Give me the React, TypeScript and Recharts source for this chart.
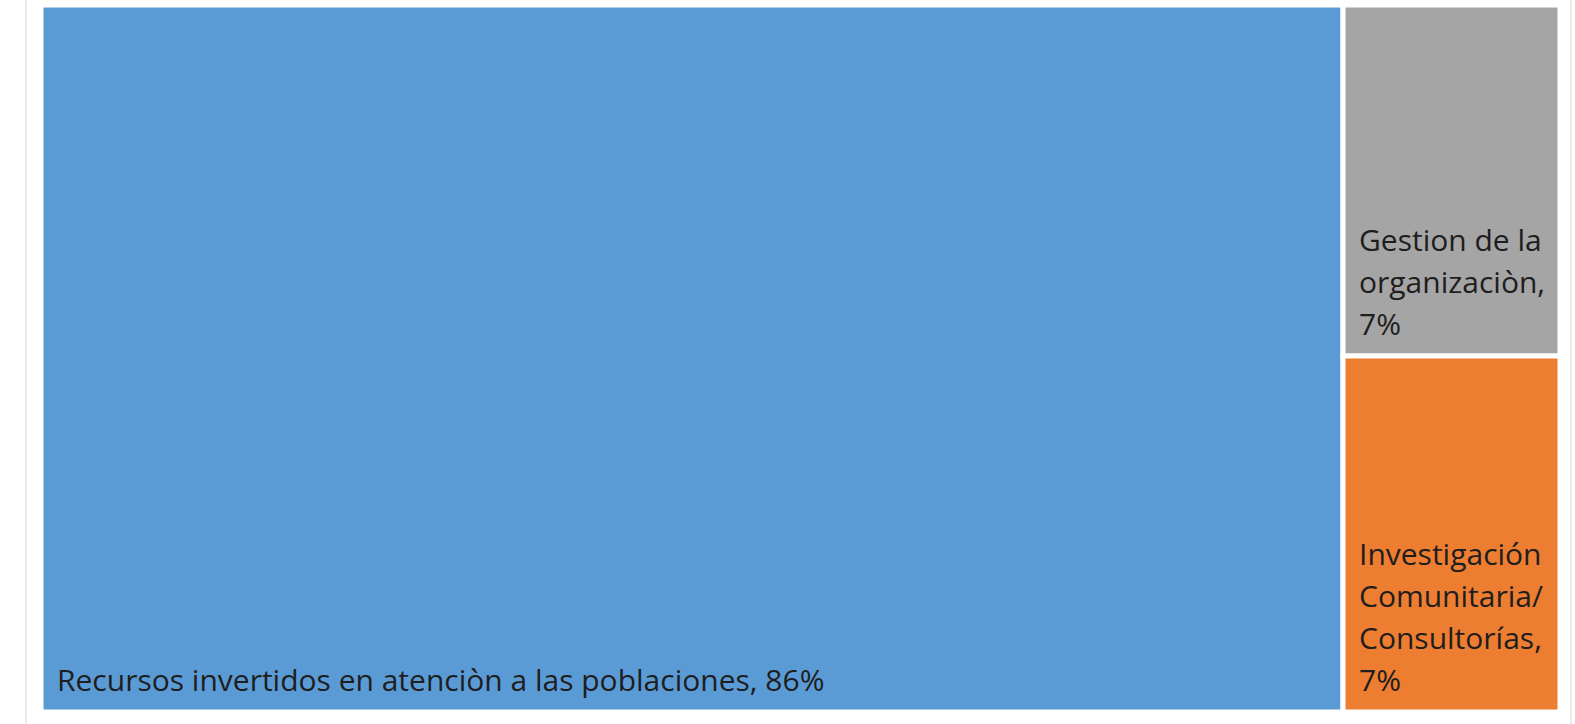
import { Treemap } from 'recharts';

const categories = [
  'Recursos invertidos en atenciòn a las poblaciones',
  'Gestion de la organizaciòn',
  'Investigación Comunitaria/Consultorías',
];
const shares = [85.7, 7.1, 7.2];
const colors = ['#5B9BD5', '#A5A5A5', '#ED7D31'];

const data = categories.map((name, i) => ({ name, value: shares[i] }));

const FONT_SIZE = 30;
const LINE_HEIGHT = 42;

// split on spaces and after "/" then pack into lines
function wrapLabel(text: string, maxChars: number) {
  const tokens = text.replace(/\//g, '/ ').split(' ').filter(Boolean);
  const lines: string[] = [];
  let current = '';
  for (const t of tokens) {
    const joiner = current.endsWith('/') ? '' : ' ';
    const next = current ? current + joiner + t : t;
    if (next.length > maxChars && current) {
      lines.push(current);
      current = t;
    } else {
      current = next;
    }
  }
  if (current) lines.push(current);
  return lines;
}

function Cell(props: any) {
  const { x, y, width, height, depth, index, name, value } = props;
  if (depth !== 1) return <g />;
  const maxChars = Math.floor((width - 20) / (FONT_SIZE * 0.45));
  const lines = wrapLabel(`${name}, ${Math.round(value)}%`, maxChars);
  const baseY = y + height - 21;
  return (
    <g>
      <rect
        x={x}
        y={y}
        width={width}
        height={height}
        fill={colors[index % colors.length]}
        stroke="#fff"
        strokeWidth={5}
      />
      <text
        x={x + 16}
        fontFamily="'Open Sans', sans-serif"
        fontSize={FONT_SIZE}
        fill="#1e1e1e"
        style={{ fontVariantLigatures: 'none' }}
      >
        {lines.map((line, i) => (
          <tspan key={i} x={x + 16} y={baseY - (lines.length - 1 - i) * LINE_HEIGHT}>
            {line}
          </tspan>
        ))}
      </text>
    </g>
  );
}

export default function App() {
  return (
    <div
      style={{
        position: 'absolute',
        left: 0,
        top: 0,
        width: 1575,
        height: 724,
        background: '#fff',
        overflow: 'hidden',
      }}
    >
      <div style={{ position: 'absolute', left: 25, top: 0, width: 2, height: 724, background: '#ebebeb' }} />
      <div style={{ position: 'absolute', left: 1570, top: 0, width: 2, height: 724, background: '#ebebeb' }} />
      <div style={{ position: 'absolute', left: 41, top: 5 }}>
        <Treemap
          width={1519}
          height={707}
          data={data}
          dataKey="value"
          nameKey="name"
          content={<Cell />}
          isAnimationActive={false}
        />
      </div>
    </div>
  );
}
